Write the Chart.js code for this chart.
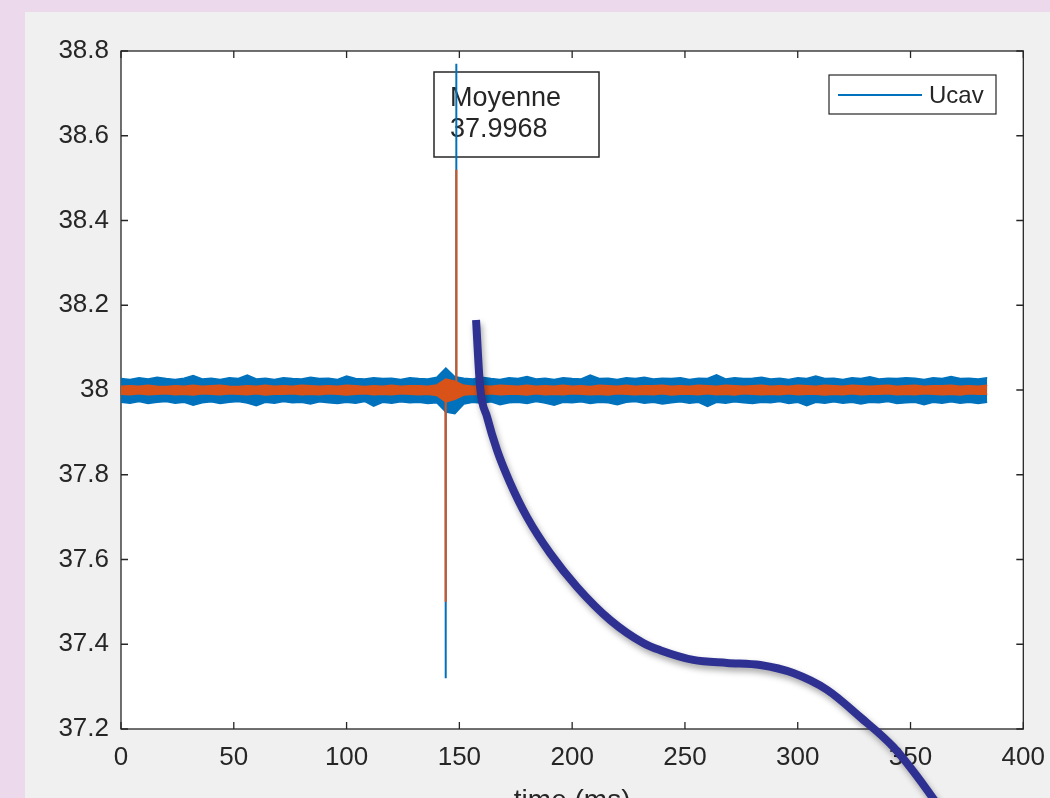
<!DOCTYPE html>
<html>
<head>
<meta charset="utf-8">
<title>Ucav</title>
<script src="https://cdn.jsdelivr.net/npm/chart.js@4.4.1/dist/chart.umd.min.js"></script>
<style>
    html, body {
        margin: 0;
        padding: 0;
        width: 1050px;
        height: 798px;
        overflow: hidden;
        background: #ecdaec;
    }
    #figure {
        position: absolute;
        left: 25px;
        top: 12px;
        right: 0;
        bottom: 0;
        background: #f0f0f0;
    }
    #chart {
        position: absolute;
        left: 0;
        top: 0;
    }
</style>
</head>
<body>
<div id="figure"></div>
<canvas id="chart" width="1058" height="830"></canvas>
<script>
// Axis ticks
const xTicks = [0, 50, 100, 150, 200, 250, 300, 350, 400];
const xTickLabels = ['0', '50', '100', '150', '200', '250', '300', '350', '400'];
const yTicks = [37.2, 37.4, 37.6, 37.8, 38, 38.2, 38.4, 38.6, 38.8];
const yTickLabels = ['37.2', '37.4', '37.6', '37.8', '38', '38.2', '38.4', '38.6', '38.8'];

// Sample times (ms) of the noise envelopes
const timeMs = [
    0, 4, 8, 12, 16, 20, 24, 28, 32, 36,
    40, 44, 48, 52, 56, 60, 64, 68, 72, 76,
    80, 84, 88, 92, 96, 100, 104, 108, 112, 116,
    120, 124, 128, 132, 136, 140, 144, 148, 152, 156,
    160, 164, 168, 172, 176, 180, 184, 188, 192, 196,
    200, 204, 208, 212, 216, 220, 224, 228, 232, 236,
    240, 244, 248, 252, 256, 260, 264, 268, 272, 276,
    280, 284, 288, 292, 296, 300, 304, 308, 312, 316,
    320, 324, 328, 332, 336, 340, 344, 348, 352, 356,
    360, 364, 368, 372, 376, 380, 384
];

// Ucav (raw) upper / lower envelope
const blueHi = [
    38.027, 38.025, 38.029, 38.026, 38.030, 38.027, 38.025, 38.028, 38.034, 38.026,
    38.028, 38.025, 38.029, 38.027, 38.035, 38.026, 38.028, 38.025, 38.029, 38.027,
    38.026, 38.030, 38.027, 38.028, 38.025, 38.033, 38.027, 38.026, 38.029, 38.027,
    38.028, 38.025, 38.029, 38.027, 38.026, 38.030, 38.052, 38.031, 38.028, 38.026,
    38.030, 38.027, 38.025, 38.029, 38.027, 38.032, 38.026, 38.028, 38.025, 38.029,
    38.027, 38.026, 38.035, 38.027, 38.028, 38.025, 38.029, 38.027, 38.030, 38.026,
    38.028, 38.027, 38.029, 38.025, 38.028, 38.027, 38.036, 38.026, 38.029, 38.027,
    38.028, 38.030, 38.026, 38.028, 38.025, 38.029, 38.027, 38.033, 38.027, 38.028,
    38.025, 38.029, 38.027, 38.031, 38.026, 38.028, 38.027, 38.029, 38.028, 38.025,
    38.029, 38.027, 38.032, 38.027, 38.028, 38.026, 38.029
];
const blueLo = [
    37.971, 37.969, 37.973, 37.968, 37.971, 37.973, 37.969, 37.971, 37.964, 37.970,
    37.972, 37.968, 37.971, 37.973, 37.969, 37.963, 37.971, 37.969, 37.973, 37.970,
    37.971, 37.967, 37.972, 37.970, 37.968, 37.971, 37.969, 37.973, 37.962, 37.971,
    37.969, 37.972, 37.970, 37.971, 37.968, 37.970, 37.948, 37.944, 37.967, 37.971,
    37.969, 37.972, 37.965, 37.970, 37.971, 37.968, 37.973, 37.969, 37.964, 37.971,
    37.970, 37.972, 37.968, 37.971, 37.970, 37.965, 37.971, 37.973, 37.969, 37.971,
    37.967, 37.970, 37.972, 37.969, 37.971, 37.961, 37.971, 37.969, 37.972, 37.970,
    37.968, 37.971, 37.970, 37.973, 37.968, 37.971, 37.963, 37.971, 37.969, 37.972,
    37.969, 37.971, 37.967, 37.971, 37.970, 37.973, 37.968, 37.970, 37.971, 37.965,
    37.971, 37.969, 37.972, 37.969, 37.971, 37.968, 37.971
];

// Filtered signal upper / lower envelope
const orangeHi = [
    38.009, 38.010, 38.009, 38.011, 38.009, 38.008, 38.010, 38.009, 38.011, 38.009,
    38.010, 38.011, 38.009, 38.008, 38.010, 38.009, 38.011, 38.009, 38.010, 38.009,
    38.011, 38.010, 38.009, 38.010, 38.009, 38.011, 38.010, 38.008, 38.010, 38.009,
    38.011, 38.009, 38.010, 38.010, 38.009, 38.012, 38.026, 38.021, 38.011, 38.009,
    38.010, 38.009, 38.011, 38.010, 38.009, 38.011, 38.009, 38.010, 38.009, 38.011,
    38.009, 38.010, 38.008, 38.011, 38.010, 38.009, 38.011, 38.009, 38.010, 38.010,
    38.011, 38.009, 38.010, 38.009, 38.011, 38.010, 38.009, 38.011, 38.010, 38.009,
    38.010, 38.011, 38.009, 38.010, 38.009, 38.011, 38.010, 38.009, 38.011, 38.010,
    38.009, 38.011, 38.010, 38.009, 38.010, 38.011, 38.009, 38.010, 38.011, 38.009,
    38.010, 38.010, 38.011, 38.009, 38.010, 38.009, 38.011
];
const orangeLo = [
    37.990, 37.989, 37.991, 37.989, 37.990, 37.991, 37.989, 37.990, 37.988, 37.991,
    37.990, 37.989, 37.991, 37.990, 37.989, 37.991, 37.988, 37.990, 37.990, 37.991,
    37.989, 37.990, 37.989, 37.991, 37.990, 37.988, 37.990, 37.991, 37.989, 37.990,
    37.989, 37.991, 37.990, 37.989, 37.990, 37.987, 37.972, 37.978, 37.988, 37.990,
    37.989, 37.991, 37.989, 37.990, 37.990, 37.988, 37.991, 37.989, 37.990, 37.989,
    37.991, 37.990, 37.989, 37.990, 37.988, 37.991, 37.990, 37.989, 37.990, 37.989,
    37.991, 37.988, 37.990, 37.990, 37.989, 37.991, 37.989, 37.990, 37.988, 37.991,
    37.990, 37.989, 37.990, 37.989, 37.991, 37.989, 37.990, 37.990, 37.988, 37.990,
    37.989, 37.991, 37.989, 37.990, 37.990, 37.991, 37.989, 37.990, 37.989, 37.991,
    37.990, 37.989, 37.990, 37.988, 37.991, 37.990, 37.990
];

// Transient spikes
const spikeBase = 38;
const spikeTimes = [143.9, 148.6];
const blueSpikeVals = [37.32, 38.77];
const orangeSpikeVals = [37.50, 38.52];

// Hand-drawn arrow curve
const curveTimes = [157.4, 159.2, 162.3, 166.7, 172.5, 180.0, 190.2, 202.2, 216.9, 231.5,
    239.0, 253.7, 268.7, 283.4, 298.0, 313.1, 327.7, 342.3, 357.4, 372.5];
const curveVals = [38.165, 38.007, 37.936, 37.858, 37.781, 37.700, 37.615, 37.535, 37.457, 37.403,
    37.386, 37.363, 37.356, 37.351, 37.332, 37.292, 37.228, 37.158, 37.056, 36.938];

// Annotation / legend texts
const meanLabel = ['Moyenne', '37.9968'];
const legendLabel = 'Ucav';

// Colors
const BLUE = '#0072BD';
const ORANGE = '#D95319';
const CURVE = '#2E3192';
const AXIS = '#262626';
const FONT = '"Liberation Sans", Arial, sans-serif';

function toPoints(xs, ys) {
    return xs.map((x, i) => ({ x: x, y: ys[i] }));
}

function spikePoints(vals) {
    const pts = [];
    spikeTimes.forEach((t, i) => {
        pts.push({ x: t, y: spikeBase });
        pts.push({ x: t, y: vals[i] });
        pts.push({ x: t + 0.1, y: spikeBase });
    });
    return pts;
}

// White plot area
const plotBackground = {
    id: 'plotBackground',
    beforeDraw(chart) {
        const { ctx, chartArea: a } = chart;
        ctx.save();
        ctx.fillStyle = '#ffffff';
        ctx.fillRect(a.left, a.top, a.right - a.left, a.bottom - a.top);
        ctx.restore();
    }
};

// Box, inward ticks, annotation and legend
const matlabAxes = {
    id: 'matlabAxes',
    beforeDatasetsDraw(chart) {
        const { ctx, chartArea: a, scales } = chart;
        const len = 7;
        ctx.save();
        ctx.strokeStyle = AXIS;
        ctx.lineWidth = 1.3;
        ctx.strokeRect(a.left, a.top, a.right - a.left, a.bottom - a.top);

        ctx.beginPath();
        xTicks.forEach(v => {
            const px = scales.x.getPixelForValue(v);
            ctx.moveTo(px, a.bottom);
            ctx.lineTo(px, a.bottom - len);
            ctx.moveTo(px, a.top);
            ctx.lineTo(px, a.top + len);
        });
        yTicks.forEach(v => {
            const py = scales.y.getPixelForValue(v);
            ctx.moveTo(a.left, py);
            ctx.lineTo(a.left + len, py);
            ctx.moveTo(a.right, py);
            ctx.lineTo(a.right - len, py);
        });
        ctx.stroke();

        // Mean annotation box
        ctx.fillStyle = '#ffffff';
        ctx.fillRect(434, 72, 165, 85);
        ctx.lineWidth = 1.5;
        ctx.strokeRect(434, 72, 165, 85);
        ctx.fillStyle = AXIS;
        ctx.font = '27px ' + FONT;
        ctx.textBaseline = 'middle';
        ctx.textAlign = 'left';
        ctx.fillText(meanLabel[0], 450, 99);
        ctx.fillText(meanLabel[1], 450, 130);

        // Legend
        ctx.fillStyle = '#ffffff';
        ctx.fillRect(829, 75, 167, 39);
        ctx.lineWidth = 1.2;
        ctx.strokeRect(829, 75, 167, 39);
        ctx.strokeStyle = BLUE;
        ctx.lineWidth = 2;
        ctx.beginPath();
        ctx.moveTo(838, 95);
        ctx.lineTo(922, 95);
        ctx.stroke();
        ctx.fillStyle = AXIS;
        ctx.font = '24px ' + FONT;
        ctx.fillText(legendLabel, 929, 96);
        ctx.restore();
    },
    beforeDatasetDraw(chart, args) {
        if (args.index === 6) {
            const ctx = chart.ctx;
            ctx.save();
            ctx.shadowColor = 'rgba(0, 0, 0, 0.35)';
            ctx.shadowBlur = 6;
            ctx.shadowOffsetX = 2;
            ctx.shadowOffsetY = 4;
        }
    },
    afterDatasetDraw(chart, args) {
        if (args.index === 6) chart.ctx.restore();
    }
};

const bandLine = (color, data, fill, order) => ({
    data: data,
    borderColor: color,
    backgroundColor: color,
    borderWidth: 1.5,
    fill: fill,
    order: order
});

new Chart(document.getElementById('chart').getContext('2d'), {
    type: 'line',
    data: {
        datasets: [
            bandLine(BLUE, toPoints(timeMs, blueHi), '+1', 5),
            bandLine(BLUE, toPoints(timeMs, blueLo), false, 5),
            { data: spikePoints(blueSpikeVals), borderColor: BLUE, borderWidth: 2, fill: false, order: 4 },
            bandLine(ORANGE, toPoints(timeMs, orangeHi), '+1', 3),
            bandLine(ORANGE, toPoints(timeMs, orangeLo), false, 3),
            { data: spikePoints(orangeSpikeVals), borderColor: ORANGE, borderWidth: 2, fill: false, order: 2 },
            {
                data: toPoints(curveTimes, curveVals),
                borderColor: CURVE,
                borderWidth: 8,
                fill: false,
                cubicInterpolationMode: 'monotone',
                clip: false,
                order: 1
            }
        ]
    },
    options: {
        responsive: false,
        animation: false,
        devicePixelRatio: 1,
        layout: { padding: { left: 0, top: 51, right: 0, bottom: 0 } },
        elements: {
            point: { radius: 0, hoverRadius: 0 },
            line: { capBezierPoints: false, borderCapStyle: 'butt' }
        },
        plugins: {
            legend: { display: false },
            tooltip: { enabled: false }
        },
        scales: {
            x: {
                type: 'linear',
                min: 0,
                max: 400,
                afterBuildTicks: s => { s.ticks = xTicks.map(v => ({ value: v })); },
                afterFit: s => { s.height = 101; },
                grid: { display: false, drawTicks: false },
                border: { display: false },
                ticks: {
                    padding: 13,
                    color: AXIS,
                    font: { family: FONT, size: 26 },
                    maxRotation: 0,
                    callback: v => xTickLabels[xTicks.indexOf(v)]
                },
                title: {
                    display: true,
                    text: 'time (ms)',
                    color: AXIS,
                    font: { family: FONT, size: 28 },
                    padding: { top: 0, bottom: 12 }
                }
            },
            y: {
                type: 'linear',
                min: 37.2,
                max: 38.8,
                afterBuildTicks: s => { s.ticks = yTicks.map(v => ({ value: v })); },
                afterFit: s => { s.width = 121; },
                grid: { display: false, drawTicks: false },
                border: { display: false },
                ticks: {
                    padding: 12,
                    color: AXIS,
                    font: { family: FONT, size: 26 },
                    callback: v => yTickLabels[yTicks.indexOf(v)]
                }
            }
        }
    },
    plugins: [plotBackground, matlabAxes]
});
</script>
</body>
</html>
